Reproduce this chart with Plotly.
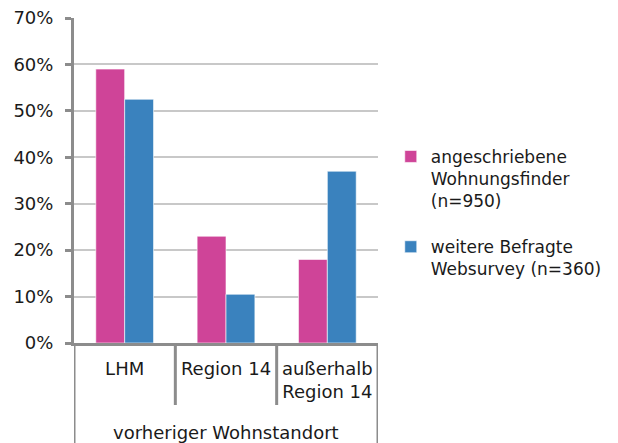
import plotly.graph_objects as go

categories = ["LHM", "Region 14", "außerhalb<br>Region 14"]
series_names = ["angeschriebene<br>Wohnungsfinder<br>(n=950)",
                "weitere Befragte<br>Websurvey (n=360)"]
wohnungsfinder = [0.59, 0.23, 0.18]
websurvey = [0.525, 0.105, 0.37]
y_ticks = [0, 0.1, 0.2, 0.3, 0.4, 0.5, 0.6, 0.7]
x_title = "vorheriger Wohnstandort"

PINK = "#CF4498"
BLUE = "#3A82BE"
AXIS = "#8C8C8C"
GRID = "#C8C8C8"
FONT = "DejaVu Sans"
FS = 18

x_pos = list(range(len(categories)))

fig = go.Figure()
fig.add_trace(go.Bar(x=x_pos, y=wohnungsfinder, name=series_names[0], legendgroup="a",
                     marker=dict(color=PINK, line=dict(color="rgba(255,255,255,0.6)", width=1))))
fig.add_trace(go.Bar(x=x_pos, y=websurvey, name=series_names[1], legendgroup="b",
                     marker=dict(color=BLUE, line=dict(color="rgba(255,255,255,0.6)", width=1))))

# plot area geometry (pixels)
plot_h = 343 - 18
sep_low = -(405 - 343) / plot_h
edge_low = -(445 - 343) / plot_h

shapes = []
for xb in [0.5, 1.5]:
    shapes.append(dict(type="line", xref="x", yref="paper", x0=xb, x1=xb,
                       y0=0, y1=sep_low, line=dict(color=AXIS, width=3)))
for xb in [-0.5, 2.5]:
    shapes.append(dict(type="line", xref="x", yref="paper", x0=xb, x1=xb,
                       y0=0, y1=edge_low, line=dict(color=AXIS, width=3)))

fig.update_layout(
    width=618, height=443,
    margin=dict(l=74, r=240, t=18, b=100, autoexpand=False),
    paper_bgcolor="white", plot_bgcolor="white",
    font=dict(family=FONT, size=FS, color="#1a1a1a"),
    barmode="group", bargap=0.43, bargroupgap=0,
    showlegend=True,
    legend=dict(x=1.042, xanchor="left", y=0.628, yanchor="top",
                valign="top", font=dict(size=17, family=FONT),
                traceorder="grouped", tracegroupgap=21,
                bgcolor="rgba(0,0,0,0)"),
    shapes=shapes,
    annotations=[dict(text=x_title, xref="paper", yref="paper", x=0.5,
                      y=-(432 - 343) / plot_h, xanchor="center", yanchor="middle",
                      showarrow=False, font=dict(size=FS, family=FONT))],
)
fig.update_xaxes(range=[-0.5, 2.5], tickmode="array", tickvals=x_pos,
                 ticktext=categories, ticks="", showline=True, linecolor=AXIS,
                 linewidth=3, showgrid=False, ticklabelstandoff=7,
                 tickfont=dict(size=FS, family=FONT))
fig.update_yaxes(range=[0, 0.7], tickmode="array", tickvals=y_ticks,
                 tickformat=".0%", showline=True, linecolor=AXIS, linewidth=3,
                 ticks="outside", ticklen=6, tickwidth=3, tickcolor=AXIS,
                 showgrid=True, gridcolor=GRID, gridwidth=2, zeroline=False,
                 ticklabelstandoff=8, tickfont=dict(size=FS, family=FONT))

fig.write_html("out.html")
